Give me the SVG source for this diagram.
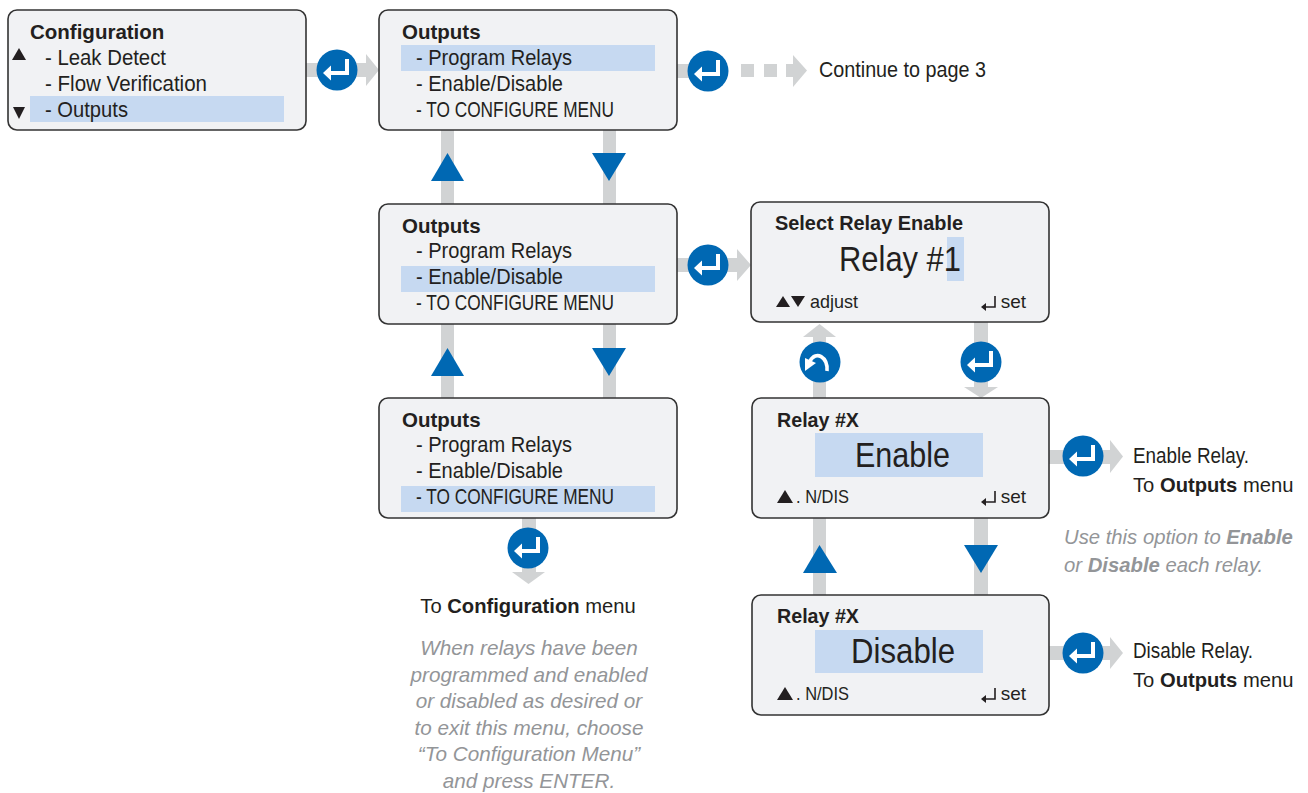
<svg xmlns="http://www.w3.org/2000/svg" width="1308" height="793" viewBox="0 0 1308 793">
<defs>
<style>
.box{fill:#f1f2f4;stroke:#333333;stroke-width:1.6}
.hl{fill:#c6d9f1}
.t{font-family:"Liberation Sans",Arial,sans-serif;font-size:22px;fill:#231f20}
.m{font-family:"Liberation Sans",Arial,sans-serif;font-size:20.2px;fill:#231f20}
.b{font-weight:bold}
.h{font-family:"Liberation Sans",Arial,sans-serif;font-size:20.5px;font-weight:bold;fill:#231f20}
.big{font-family:"Liberation Sans",Arial,sans-serif;font-size:35px;fill:#231f20}
.sm{font-family:"Liberation Sans",Arial,sans-serif;font-size:19px;fill:#231f20}
.it{font-family:"Liberation Sans",Arial,sans-serif;font-size:20.7px;font-style:italic;fill:#939598}
.it2{font-family:"Liberation Sans",Arial,sans-serif;font-size:20.3px;font-style:italic;fill:#939598}
.g{fill:#d1d3d4}
.bl{fill:#0068b3}
.ico{fill:none;stroke:#ffffff;stroke-width:4}
.icof{fill:#ffffff}
.k{fill:#231f20}
.sym{fill:none;stroke:#231f20;stroke-width:1.6}
</style>
<g id="enter">
<circle r="20.5" class="bl"/>
<path class="ico" d="M10 -11 V3 H-6"/>
<polygon class="icof" points="-14,3 -6,-4.5 -6,10.5"/>
</g>
<g id="back">
<circle r="20.5" class="bl"/>
<path fill="none" stroke="#ffffff" stroke-width="3.6" d="M7 9 C8 -5 -4 -12 -10 -1"/>
<polygon class="icof" points="-15,9 -15,-4 -4,1"/>
</g>
<g id="setsym">
<path class="sym" d="M13 -12 V-1 H1"/>
<polygon class="k" points="-1,-1 4,-5 4,3"/>
</g>
</defs>

<g id="connectors">
<rect class="g" x="306" y="63" width="61" height="14"/>
<polygon class="g" points="366,54 379,70 366,86"/>
<use href="#enter" x="337" y="70"/>
<rect class="g" x="677" y="64" width="32" height="14"/>
<rect class="g" x="741" y="64" width="13" height="13"/>
<rect class="g" x="764" y="64" width="13" height="13"/>
<rect class="g" x="786" y="64" width="8" height="13"/>
<polygon class="g" points="793,55 807,70.5 793,87"/>
<use href="#enter" x="708" y="71"/>
<rect class="g" x="441" y="130" width="13" height="74"/>
<rect class="g" x="603" y="130" width="13" height="74"/>
<polygon class="bl" points="447.5,153 464,181 431,181"/>
<polygon class="bl" points="592,153 626,153 609,181"/>
<rect class="g" x="441" y="324" width="13" height="74"/>
<rect class="g" x="603" y="324" width="13" height="74"/>
<polygon class="bl" points="447.5,348 464,376 431,376"/>
<polygon class="bl" points="592,348 626,348 609,376"/>
<rect class="g" x="677" y="258" width="61" height="14"/>
<polygon class="g" points="737,249 751,265 737,281"/>
<use href="#enter" x="708" y="265"/>
<rect class="g" x="522" y="518" width="14" height="55"/>
<polygon class="g" points="512,572 545,572 528.5,584"/>
<use href="#enter" x="528" y="548"/>
<polygon class="g" points="803,337 836,337 819.5,324"/>
<rect class="g" x="813" y="336" width="13" height="62"/>
<use href="#back" x="820" y="362"/>
<rect class="g" x="974" y="322" width="14" height="66"/>
<polygon class="g" points="964,387 998,387 981,398"/>
<use href="#enter" x="981" y="362"/>
<rect class="g" x="813" y="518" width="13" height="77"/>
<rect class="g" x="974" y="518" width="14" height="77"/>
<polygon class="bl" points="819.5,545 837,573 803,573"/>
<polygon class="bl" points="964,545 998,545 981,573"/>
<rect class="g" x="1049" y="450" width="62" height="14"/>
<polygon class="g" points="1110,440 1123,456.5 1110,473"/>
<use href="#enter" x="1083" y="456"/>
<rect class="g" x="1049" y="646" width="62" height="14"/>
<polygon class="g" points="1110,637 1123,653 1110,669"/>
<use href="#enter" x="1083" y="653"/>
</g>

<g id="config">
<rect class="box" x="8" y="10" width="298" height="120" rx="9"/>
<rect class="hl" x="30" y="96" width="254" height="26"/>
<text class="h" x="30" y="39">Configuration</text>
<polygon class="k" points="19,48 26,60 12,60"/>
<polygon class="k" points="13,107 25,107 19,119"/>
<text class="t" x="45" y="65" textLength="121" lengthAdjust="spacingAndGlyphs">- Leak Detect</text>
<text class="t" x="45" y="91" textLength="162" lengthAdjust="spacingAndGlyphs">- Flow Verification</text>
<text class="t" x="45" y="117" textLength="83" lengthAdjust="spacingAndGlyphs">- Outputs</text>
</g>

<g id="outputs1">
<rect class="box" x="379" y="10" width="298" height="120" rx="9"/>
<rect class="hl" x="401" y="45" width="254" height="26"/>
<text class="h" x="402" y="39">Outputs</text>
<text class="t" x="416" y="65" textLength="156" lengthAdjust="spacingAndGlyphs">- Program Relays</text>
<text class="t" x="416" y="91" textLength="147" lengthAdjust="spacingAndGlyphs">- Enable/Disable</text>
<text class="t" x="416" y="117" textLength="198" lengthAdjust="spacingAndGlyphs">- TO CONFIGURE MENU</text>
</g>

<g id="outputs2">
<rect class="box" x="379" y="204" width="298" height="120" rx="9"/>
<rect class="hl" x="401" y="266" width="254" height="26"/>
<text class="h" x="402" y="233">Outputs</text>
<text class="t" x="416" y="258" textLength="156" lengthAdjust="spacingAndGlyphs">- Program Relays</text>
<text class="t" x="416" y="284" textLength="147" lengthAdjust="spacingAndGlyphs">- Enable/Disable</text>
<text class="t" x="416" y="310" textLength="198" lengthAdjust="spacingAndGlyphs">- TO CONFIGURE MENU</text>
</g>

<g id="outputs3">
<rect class="box" x="379" y="398" width="298" height="120" rx="9"/>
<rect class="hl" x="401" y="486" width="254" height="26"/>
<text class="h" x="402" y="427">Outputs</text>
<text class="t" x="416" y="452" textLength="156" lengthAdjust="spacingAndGlyphs">- Program Relays</text>
<text class="t" x="416" y="478" textLength="147" lengthAdjust="spacingAndGlyphs">- Enable/Disable</text>
<text class="t" x="416" y="504" textLength="198" lengthAdjust="spacingAndGlyphs">- TO CONFIGURE MENU</text>
</g>

<g id="continue">
<text class="t" x="819" y="77" textLength="167" lengthAdjust="spacingAndGlyphs">Continue to page 3</text>
</g>

<g id="selectRelay">
<rect class="box" x="751" y="202" width="298" height="120" rx="9"/>
<rect class="hl" x="947" y="237" width="17" height="44"/>
<text class="h" x="775" y="230" textLength="188" lengthAdjust="spacingAndGlyphs">Select Relay Enable</text>
<text class="big" x="839" y="271" textLength="122" lengthAdjust="spacingAndGlyphs">Relay #1</text>
<polygon class="k" points="783,296 790,307 776,307"/>
<polygon class="k" points="791,296 805,296 798,307"/>
<text class="sm" x="810" y="308" textLength="48" lengthAdjust="spacingAndGlyphs">adjust</text>
<use href="#setsym" x="982" y="308"/>
<text class="sm" x="1026" y="308" text-anchor="end">set</text>
</g>

<g id="relayEnable">
<rect class="box" x="752" y="398" width="297" height="120" rx="9"/>
<rect class="hl" x="815" y="433" width="168" height="44"/>
<text class="h" x="777" y="427" textLength="82" lengthAdjust="spacingAndGlyphs">Relay #X</text>
<text class="big" x="855" y="467" textLength="95" lengthAdjust="spacingAndGlyphs">Enable</text>
<polygon class="k" points="785,490 793,503 777,503"/>
<text class="sm" x="796" y="503" textLength="53" lengthAdjust="spacingAndGlyphs">. N/DIS</text>
<use href="#setsym" x="982" y="503"/>
<text class="sm" x="1026" y="503" text-anchor="end">set</text>
</g>

<g id="relayDisable">
<rect class="box" x="752" y="595" width="297" height="120" rx="9"/>
<rect class="hl" x="815" y="630" width="168" height="43"/>
<text class="h" x="777" y="623" textLength="82" lengthAdjust="spacingAndGlyphs">Relay #X</text>
<text class="big" x="851" y="663" textLength="104" lengthAdjust="spacingAndGlyphs">Disable</text>
<polygon class="k" points="785,687 793,700 777,700"/>
<text class="sm" x="796" y="700" textLength="53" lengthAdjust="spacingAndGlyphs">. N/DIS</text>
<use href="#setsym" x="982" y="700"/>
<text class="sm" x="1026" y="700" text-anchor="end">set</text>
</g>

<g id="enableNote">
<text class="t" x="1133" y="463" textLength="116" lengthAdjust="spacingAndGlyphs">Enable Relay.</text>
<text class="m" x="1133" y="492">To <tspan class="b">Outputs</tspan> menu</text>
</g>

<g id="disableNote">
<text class="t" x="1133" y="658" textLength="120" lengthAdjust="spacingAndGlyphs">Disable Relay.</text>
<text class="m" x="1133" y="687">To <tspan class="b">Outputs</tspan> menu</text>
</g>

<g id="useNote">
<text class="it2" x="1064" y="544">Use this option to <tspan font-weight="bold">Enable</tspan></text>
<text class="it2" x="1064" y="572">or <tspan font-weight="bold">Disable</tspan> each relay.</text>
</g>

<g id="toConfig">
<text class="m" x="528" y="613" text-anchor="middle">To <tspan class="b">Configuration</tspan> menu</text>
</g>

<g id="exitNote">
<text class="it" x="529" y="655" text-anchor="middle">When relays have been</text>
<text class="it" x="529" y="681.5" text-anchor="middle">programmed and enabled</text>
<text class="it" x="529" y="708" text-anchor="middle">or disabled as desired or</text>
<text class="it" x="529" y="734.5" text-anchor="middle">to exit this menu, choose</text>
<text class="it" x="529" y="761" text-anchor="middle">“To Configuration Menu”</text>
<text class="it" x="529" y="787.5" text-anchor="middle">and press ENTER.</text>
</g>
</svg>
